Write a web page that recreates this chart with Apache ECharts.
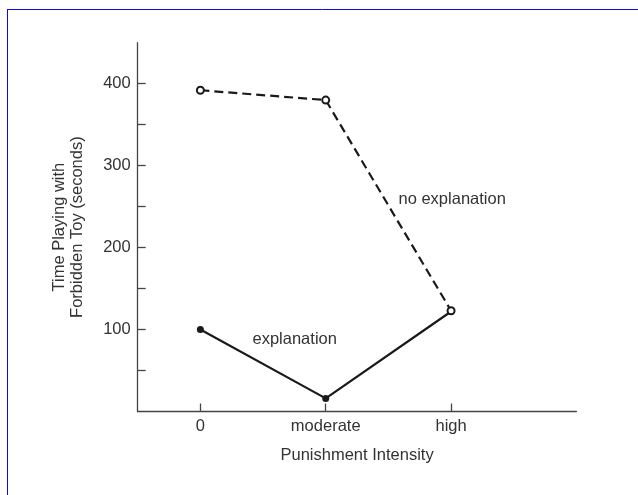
<!DOCTYPE html>
<html>
<head>
<meta charset="utf-8">
<script src="https://cdn.jsdelivr.net/npm/echarts@6/dist/echarts.min.js"></script>
<style>
html,body{margin:0;padding:0;background:#fff;}
#chart{width:638px;height:495px;}
</style>
</head>
<body>
<div id="chart"></div>
<script>
var categories = ['0', 'moderate', 'high'];
var noExplanation = [392, 380, 123];
var explanation = [100, 16, 122];
var yTickValues = [50, 100, 150, 200, 250, 300, 350, 400];
var yLabelValues = [100, 200, 300, 400];

function toPairs(arr) { return arr.map(function (v, i) { return [i, v]; }); }

var FONT = 'Liberation Sans, Arial, sans-serif';
var TXT = '#333';
var FS = 16.5;

var chart = echarts.init(document.getElementById('chart'), null, {renderer: 'canvas'});
chart.setOption({
  backgroundColor: '#fff',
  animation: false,
  grid: {left: 137.7, right: 61.6, top: 42.7, bottom: 83.5, containLabel: false},
  xAxis: {
    type: 'value', min: -0.5, max: 3,
    name: 'Punishment Intensity', nameLocation: 'middle', nameGap: 35,
    nameTextStyle: {color: TXT, fontSize: FS, fontFamily: FONT},
    axisLine: {show: true, onZero: false, lineStyle: {color: '#444', width: 1.3}},
    axisTick: {show: true, inside: true, length: 8, customValues: [0, 1, 2], lineStyle: {color: '#444', width: 1.3}},
    axisLabel: {show: true, margin: 6, customValues: [0, 1, 2], color: TXT, fontSize: FS, fontFamily: FONT,
      formatter: function (v) { return categories[Math.round(v)]; }},
    splitLine: {show: false}
  },
  yAxis: {
    type: 'value', min: 0, max: 450,
    name: 'Time Playing with\nForbidden Toy (seconds)', nameLocation: 'middle', nameGap: 51,
    nameTextStyle: {color: TXT, fontSize: FS, fontFamily: FONT, lineHeight: 18},
    axisLine: {show: true, onZero: false, lineStyle: {color: '#444', width: 1.3}},
    axisTick: {show: true, inside: true, length: 8, customValues: yTickValues, lineStyle: {color: '#444', width: 1.3}},
    axisLabel: {show: true, margin: 7, customValues: yLabelValues, color: TXT, fontSize: FS, fontFamily: FONT},
    splitLine: {show: false}
  },
  series: [
    {
      name: 'explanation', type: 'line', data: toPairs(explanation),
      symbol: 'circle', symbolSize: 7, z: 2,
      lineStyle: {color: '#1a1a1a', width: 2.2, type: 'solid'},
      itemStyle: {color: '#1a1a1a'}
    },
    {
      name: 'no explanation', type: 'line', data: toPairs(noExplanation),
      symbol: 'emptyCircle', symbolSize: 7, z: 3,
      lineStyle: {color: '#1a1a1a', width: 2.2, type: [9, 5]},
      itemStyle: {color: '#1a1a1a', borderColor: '#1a1a1a', borderWidth: 1.3}
    }
  ],
  graphic: [
    {type: 'text', left: 398.5, top: 191, z: 10,
      style: {text: 'no explanation', fill: TXT, font: FS + 'px ' + FONT}},
    {type: 'text', left: 252.5, top: 330.5, z: 10,
      style: {text: 'explanation', fill: TXT, font: FS + 'px ' + FONT}},
    {type: 'line', z: 20, shape: {x1: 7, y1: 9.5, x2: 638, y2: 9.5}, style: {stroke: '#0a0ae6', lineWidth: 1}},
    {type: 'line', z: 20, shape: {x1: 7.5, y1: 9, x2: 7.5, y2: 495}, style: {stroke: '#0a0ae6', lineWidth: 1}}
  ]
});
</script>
</body>
</html>
